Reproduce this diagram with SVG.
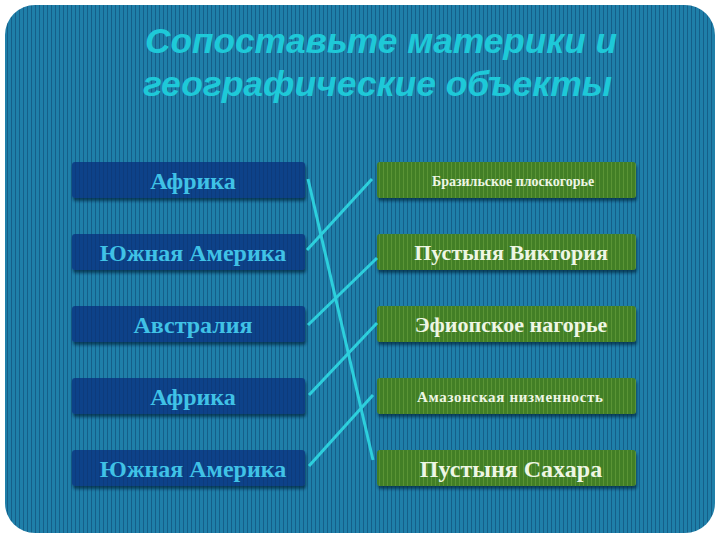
<svg xmlns="http://www.w3.org/2000/svg" width="720" height="540" viewBox="0 0 720 540">
<defs>
<pattern id="bgStripes" width="4" height="8" patternUnits="userSpaceOnUse">
<rect width="4" height="8" fill="#1f7fa9"/>
<rect x="3" width="1" height="8" fill="#155f89"/>
</pattern>
<pattern id="blueStripes" width="4" height="8" patternUnits="userSpaceOnUse">
<rect width="4" height="8" fill="#0e4289"/>
<rect x="3" width="1" height="8" fill="#0c3a7c"/>
</pattern>
<pattern id="greenStripes" width="4" height="8" patternUnits="userSpaceOnUse">
<rect width="4" height="8" fill="#437f27"/>
<rect x="3" width="1" height="8" fill="#5a9436"/>
</pattern>
<filter id="shadow" x="-10%" y="-30%" width="120%" height="170%">
<feDropShadow dx="1" dy="3" stdDeviation="1.5" flood-color="#04223a" flood-opacity="0.7"/>
</filter>
</defs>
<style>
.lbox{fill:url(#blueStripes);filter:url(#shadow)}
.rbox{fill:url(#greenStripes);filter:url(#shadow)}
.ltxt{font-family:"Liberation Serif","Times New Roman",serif;font-weight:bold;font-size:24px;fill:#40c2e6;text-anchor:middle}
.rtxt{font-family:"Liberation Serif","Times New Roman",serif;font-weight:bold;font-size:22px;fill:#eef6e4;text-anchor:middle}
.rtxt.s14{font-size:14px}
.rtxt.s15{font-size:15px}
.rtxt.s24{font-size:24px}
.title{font-family:"Liberation Sans",Arial,sans-serif;font-weight:bold;font-style:italic;font-size:35px;fill:#1ec9d8}
.link{stroke:#2dcfdc;stroke-width:3;fill:none;stroke-linecap:butt}
</style>
<rect width="720" height="540" fill="#ffffff"/>
<rect x="5" y="5" width="710" height="528" rx="30" ry="30" fill="url(#bgStripes)"/>
<g id="title">
<text class="title" x="145" y="53" textLength="472" lengthAdjust="spacingAndGlyphs">Сопоставьте материки и</text>
<text class="title" x="143" y="96" textLength="469" lengthAdjust="spacingAndGlyphs">географические объекты</text>
</g>
<g id="left1"><rect class="lbox" x="72" y="162" width="233" height="36" rx="3"/><text class="ltxt" x="193" y="189">Африка</text></g>
<g id="left2"><rect class="lbox" x="72" y="234" width="233" height="36" rx="3"/><text class="ltxt" x="193" y="261">Южная Америка</text></g>
<g id="left3"><rect class="lbox" x="72" y="306" width="233" height="36" rx="3"/><text class="ltxt" x="193" y="333">Австралия</text></g>
<g id="left4"><rect class="lbox" x="72" y="378" width="233" height="36" rx="3"/><text class="ltxt" x="193" y="405">Африка</text></g>
<g id="left5"><rect class="lbox" x="72" y="450" width="233" height="36" rx="3"/><text class="ltxt" x="193" y="477">Южная Америка</text></g>
<g id="right1"><rect class="rbox" x="377" y="162" width="259" height="36" rx="3"/><text class="rtxt s14" x="513" y="186">Бразильское плоскогорье</text></g>
<g id="right2"><rect class="rbox" x="377" y="234" width="259" height="36" rx="3"/><text class="rtxt" x="511" y="260">Пустыня Виктория</text></g>
<g id="right3"><rect class="rbox" x="377" y="306" width="259" height="36" rx="3"/><text class="rtxt" x="511" y="332">Эфиопское нагорье</text></g>
<g id="right4"><rect class="rbox" x="377" y="378" width="259" height="36" rx="3"/><text class="rtxt s15" x="510" y="402" textLength="186" lengthAdjust="spacing">Амазонская низменность</text></g>
<g id="right5"><rect class="rbox" x="377" y="450" width="259" height="36" rx="3"/><text class="rtxt s24" x="511" y="477">Пустыня Сахара</text></g>
<g id="connectors">
<line class="link" x1="308" y1="179" x2="373" y2="460"/>
<line class="link" x1="307" y1="250" x2="372" y2="179"/>
<line class="link" x1="308" y1="325" x2="377" y2="258"/>
<line class="link" x1="309" y1="395" x2="377" y2="323"/>
<line class="link" x1="309" y1="466" x2="373" y2="395"/>
</g>
</svg>
